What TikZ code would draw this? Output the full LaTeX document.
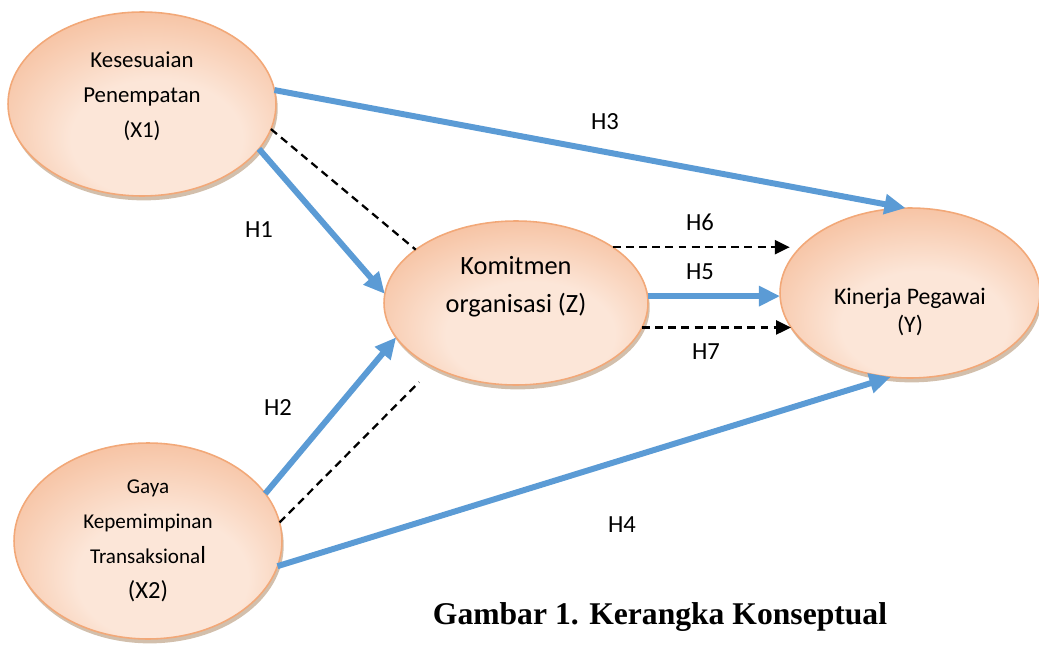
\documentclass[tikz,border=0pt]{standalone}
\usepackage{fontspec}
\setmainfont{Carlito}
\newfontfamily\captionfont{Liberation Serif}
\usetikzlibrary{shapes.geometric,arrows.meta,shadows}

\definecolor{peachlight}{HTML}{FCE6D8}
\definecolor{peachdark}{HTML}{F3AE84}
\definecolor{peachline}{HTML}{F2A878}
\definecolor{arrowblue}{HTML}{5B9BD5}
\pgfdeclareradialshading{peach}{\pgfpoint{4bp}{-14bp}}{color(0bp)=(peachlight); color(16bp)=(peachlight); color(40bp)=(peachdark); color(50bp)=(peachdark)}

\begin{document}
\begin{tikzpicture}[
    x=0.02cm, y=-0.02cm,
    latent/.style={ellipse, shade, shading=peach, draw=peachline, line width=0.9pt, inner sep=0pt, outer sep=0pt, align=center,
        drop shadow={shadow xshift=1pt, shadow yshift=-2.5pt, fill=brown!60!gray, opacity=0.5}},
    bluearrow/.style={draw=arrowblue, line width=3.4pt, -{Triangle[length=12pt, width=11pt]}},
    dashline/.style={line width=1.3pt, dash pattern=on 4.5pt off 3pt},
    dasharrow/.style={dashline, -{Triangle[length=8.5pt, width=8pt]}},
    hyp/.style={font=\fontsize{14}{16}\selectfont}
]
    \useasboundingbox (0,0) rectangle (1039,646);

    % Variables
    \node[latent, minimum width=5.36cm, minimum height=3.68cm, text depth=11pt, font=\fontsize{13}{20}\selectfont] (x1) at (142,104) {Kesesuaian\\Penempatan\\(X1)};
    \node[latent, minimum width=5.36cm, minimum height=3.92cm, font=\fontsize{12}{20}\selectfont] (x2) at (148,541) {Gaya\\Kepemimpinan\\Transaksiona{\fontsize{14}{20}\selectfont l}\\{\fontsize{14}{20}\selectfont (X2)}};
    \node[latent, minimum width=5.28cm, minimum height=3.28cm, text depth=21pt, font=\fontsize{15}{22}\selectfont] (z) at (516,303) {Komitmen\\organisasi (Z)};
    \node[latent, minimum width=5.2cm, minimum height=3.4cm, text height=47pt, font=\fontsize{13.5}{16}\selectfont] (y) at (910,293) {Kinerja Pegawai\\(Y)};

    % Paths
    \draw[bluearrow] (x1.6) -- (y.93);
    \draw[bluearrow] (x1.339) -- (z.176);
    \draw[bluearrow] (x2.22) -- (z.196);
    \draw[bluearrow] (x2.349) -- (y.257);
    \draw[bluearrow] (z.3) -- (z.3 -| y.west);
    \draw[dashline] (x1.349) -- (z.152);
    \draw[dashline, shorten >=12pt] (x2.8) -- (z.218);
    \draw[dasharrow] (z.30) -- (z.30 -| y.165);
    \draw[dasharrow] (z.349) -- (z.349 -| y.196);

    % Labels
    \node[hyp] (h1) at (259,230) {H1};
    \node[hyp] (h2) at (278,408) {H2};
    \node[hyp] (h3) at (605,122) {H3};
    \node[hyp] (h4) at (622,525) {H4};
    \node[hyp] (h5) at (700,272) {H5};
    \node[hyp] (h6) at (700,222) {H6};
    \node[hyp] (h7) at (706,352) {H7};
    \node[font=\captionfont\fontsize{18}{20}\selectfont\bfseries] (caption) at (660,617) {Gambar 1. Kerangka Konseptual};
\end{tikzpicture}
\end{document}
